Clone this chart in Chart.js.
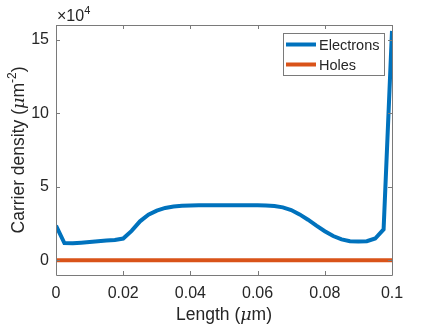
<!DOCTYPE html>
<html>
<head>
<meta charset="utf-8">
<script src="https://cdn.jsdelivr.net/npm/chart.js@4"></script>
<style>
  html, body { margin: 0; padding: 0; background: #fff; }
  #wrap { width: 433px; height: 325px; }
</style>
</head>
<body>
<div id="wrap"><canvas id="grafico" width="433" height="325"></canvas></div>
<script>
// Dados (x em um, densidade em unidades de 1e4 um^-2)
var lengthUm = [0, 0.0025, 0.005, 0.0075, 0.01, 0.0125, 0.015, 0.0175, 0.02, 0.0225,
  0.025, 0.0275, 0.03, 0.0325, 0.035, 0.0375, 0.04, 0.0425, 0.045, 0.0475,
  0.05, 0.0525, 0.055, 0.0575, 0.06, 0.0625, 0.065, 0.0675, 0.07, 0.0725,
  0.075, 0.0775, 0.08, 0.0825, 0.085, 0.0875, 0.09, 0.0925, 0.095, 0.0975, 0.1];
var electrons = [2.35, 1.17, 1.16, 1.2, 1.25, 1.3, 1.34, 1.38, 1.48, 2.0,
  2.65, 3.1, 3.38, 3.56, 3.66, 3.71, 3.73, 3.75, 3.75, 3.75,
  3.75, 3.75, 3.75, 3.75, 3.74, 3.73, 3.69, 3.6, 3.42, 3.12,
  2.76, 2.36, 1.98, 1.65, 1.42, 1.3, 1.27, 1.3, 1.48, 2.1, 15.6];
var holes = [0, 0, 0, 0, 0, 0, 0, 0, 0, 0,
  0, 0, 0, 0, 0, 0, 0, 0, 0, 0,
  0, 0, 0, 0, 0, 0, 0, 0, 0, 0,
  0, 0, 0, 0, 0, 0, 0, 0, 0, 0, 0];
var xTicks = [0, 0.02, 0.04, 0.06, 0.08, 0.1];
var xTickLabels = ['0', '0.02', '0.04', '0.06', '0.08', '0.1'];
var yTicks = [0, 5, 10, 15];
var yTickLabels = ['0', '5', '10', '15'];
var seriesNames = ['Electrons', 'Holes'];
var seriesColors = ['#0072BD', '#D95319'];

var FONT = '"Liberation Sans", Arial, sans-serif';
var AX = '#262626';
var LINE = '#7a7a7a';

function pts(ys) {
  return lengthUm.map(function (x, i) { return { x: x, y: ys[i] }; });
}

// desenha caixa, ticks para dentro, titulos e legenda
var matlabLook = {
  id: 'matlabLook',
  afterDraw: function (chart) {
    var c = chart.ctx, a = chart.chartArea;
    var xs = chart.scales.x, ys = chart.scales.y;
    c.save();
    c.strokeStyle = LINE;
    c.lineWidth = 1;
    c.beginPath();
    c.rect(Math.round(a.left) + 0.5, Math.round(a.top) + 0.5,
      Math.round(a.right - a.left), Math.round(a.bottom - a.top));
    c.stroke();
    c.beginPath();
    xTicks.forEach(function (v) {
      var p = Math.round(xs.getPixelForValue(v)) + 0.5;
      c.moveTo(p, a.bottom); c.lineTo(p, a.bottom - 4);
      c.moveTo(p, a.top); c.lineTo(p, a.top + 4);
    });
    yTicks.forEach(function (v) {
      var p = Math.round(ys.getPixelForValue(v)) + 0.5;
      c.moveTo(a.left, p); c.lineTo(a.left + 4, p);
      c.moveTo(a.right, p); c.lineTo(a.right - 4, p);
    });
    c.stroke();

    // x10^4
    c.fillStyle = AX;
    c.textBaseline = 'alphabetic';
    c.textAlign = 'left';
    c.font = '16px ' + FONT;
    c.fillText('\u00d710', a.left + 1, 21);
    var w = c.measureText('\u00d710').width;
    c.font = '11px ' + FONT;
    c.fillText('4', a.left + 1 + w, 14);

    // titulo x
    var parts = [
      ['Length (', '17.5px ' + FONT, 0],
      ['\u03bc', 'italic 17.5px "DejaVu Serif", serif', 0],
      ['m)', '17.5px ' + FONT, 0]
    ];
    drawParts(c, parts, (a.left + a.right) / 2, 320);

    // titulo y
    c.save();
    c.translate(24, (a.top + a.bottom) / 2);
    c.rotate(-Math.PI / 2);
    drawParts(c, [
      ['Carrier density (', '17.5px ' + FONT, 0],
      ['\u03bc', 'italic 17.5px "DejaVu Serif", serif', 0],
      ['m', '17.5px ' + FONT, 0],
      ['-2', '12px ' + FONT, -8],
      [')', '17.5px ' + FONT, 0]
    ], 0, 0);
    c.restore();

    // legenda
    var lx = 283, ly = 33, lw = 101, lh = 42;
    c.fillStyle = '#fff';
    c.fillRect(lx, ly, lw, lh);
    c.strokeStyle = LINE;
    c.strokeRect(lx + 0.5, ly + 0.5, lw, lh);
    c.font = '14.5px ' + FONT;
    c.textBaseline = 'middle';
    c.textAlign = 'left';
    seriesNames.forEach(function (n, i) {
      var yy = ly + 11.5 + i * 20;
      c.strokeStyle = seriesColors[i];
      c.lineWidth = 4;
      c.beginPath();
      c.moveTo(lx + 3, yy); c.lineTo(lx + 33, yy);
      c.stroke();
      c.fillStyle = AX;
      c.fillText(n, lx + 36, yy + 1);
    });
    c.restore();
  }
};

function drawParts(c, parts, cx, baseY) {
  var total = 0;
  parts.forEach(function (p) { c.font = p[1]; total += c.measureText(p[0]).width; });
  var x = cx - total / 2;
  c.fillStyle = AX;
  c.textAlign = 'left';
  c.textBaseline = 'alphabetic';
  parts.forEach(function (p) {
    c.font = p[1];
    c.fillText(p[0], x, baseY + p[2]);
    x += c.measureText(p[0]).width;
  });
}

var ctx = document.getElementById('grafico').getContext('2d');

var data = {
  datasets: [{
    label: seriesNames[0],
    data: pts(electrons),
    borderColor: seriesColors[0],
    borderWidth: 4,
    pointRadius: 0,
    fill: false,
    tension: 0
  }, {
    label: seriesNames[1],
    data: pts(holes),
    borderColor: seriesColors[1],
    borderWidth: 4,
    pointRadius: 0,
    fill: false,
    tension: 0
  }]
};

var options = {
  responsive: false,
  animation: false,
  layout: { padding: { left: 0, top: 25, right: 41, bottom: 0 } },
  scales: {
    x: {
      type: 'linear',
      min: 0,
      max: 0.1,
      afterBuildTicks: function (s) { s.ticks = xTicks.map(function (v) { return { value: v }; }); },
      afterFit: function (s) { s.height = 50; },
      grid: { display: false, drawTicks: false },
      border: { display: false },
      ticks: {
        padding: 9,
        color: AX,
        font: { family: FONT, size: 16 },
        maxRotation: 0,
        callback: function (v) { return xTickLabels[xTicks.indexOf(v)]; }
      }
    },
    y: {
      min: -1,
      max: 16,
      afterBuildTicks: function (s) { s.ticks = yTicks.map(function (v) { return { value: v }; }); },
      afterFit: function (s) { s.width = 56; },
      grid: { display: false, drawTicks: false },
      border: { display: false },
      ticks: {
        padding: 7,
        color: AX,
        font: { family: FONT, size: 16 },
        callback: function (v) { return yTickLabels[yTicks.indexOf(v)]; }
      }
    }
  },
  plugins: {
    legend: { display: false },
    tooltip: { enabled: false }
  }
};

var myLineChart = new Chart(ctx, {
  type: 'line',
  data: data,
  options: options,
  plugins: [matlabLook]
});
</script>
</body>
</html>
